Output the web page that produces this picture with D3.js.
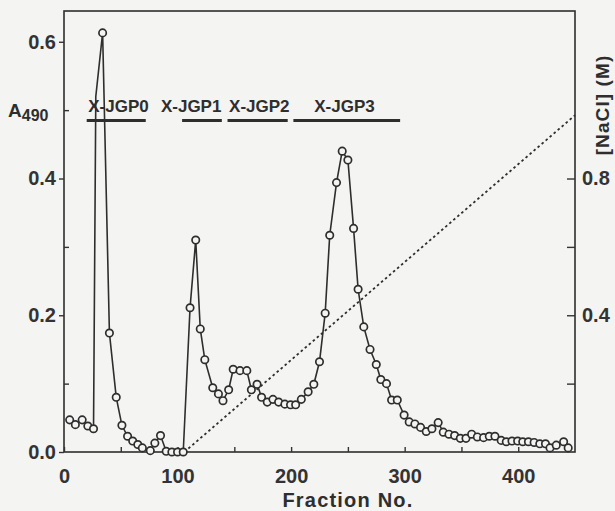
<!DOCTYPE html>
<html>
<head>
<meta charset="utf-8">
<script src="https://cdn.jsdelivr.net/npm/d3@7"></script>
<style>
  body { margin: 0; background: #f4f4f2; }
  svg { display: block; font-family: "Liberation Sans", Arial, sans-serif; }
  .axis text { font-size: 20px; font-weight: bold; fill: #333; }
  .axis line { stroke: #333; stroke-width: 1.4; }
</style>
</head>
<body>
<script>
// fraction numbers and A490 readings
var fractions = [5, 10, 16, 21, 26, 28, 34, 40, 46, 51, 56, 60.5, 65, 69, 76, 80, 85, 90, 95, 100,
  105, 111, 116, 120, 124, 131, 136, 140, 145, 149, 155, 161, 165, 170, 174, 179, 184, 189, 194.5, 199.5,
  204, 209, 215, 220, 225, 230, 234, 240, 245, 250, 255, 259, 264, 269.5, 275, 279, 284, 288.5, 293.5, 299.5,
  304, 309, 314, 319, 324, 329.5, 334, 339, 344, 349, 354, 359, 364, 369.5, 374.5, 379.5, 385, 389.5, 394.5, 399.5,
  404, 409, 414, 419, 424, 428, 433.5, 440, 444];
var a490 = [0.047, 0.040, 0.047, 0.038, 0.034, 0.520, 0.613, 0.174, 0.080, 0.039, 0.023, 0.016, 0.011, 0.006, 0.002, 0.013, 0.024, 0.001, 0, 0,
  0, 0.211, 0.310, 0.180, 0.135, 0.094, 0.085, 0.075, 0.091, 0.121, 0.119, 0.119, 0.091, 0.099, 0.080, 0.073, 0.077, 0.073, 0.070, 0.069,
  0.069, 0.077, 0.088, 0.099, 0.132, 0.203, 0.317, 0.394, 0.440, 0.427, 0.327, 0.238, 0.183, 0.150, 0.128, 0.106, 0.100, 0.076, 0.076, 0.054,
  0.044, 0.041, 0.036, 0.030, 0.034, 0.043, 0.029, 0.026, 0.024, 0.020, 0.020, 0.026, 0.022, 0.021, 0.023, 0.023, 0.017, 0.015, 0.016, 0.016,
  0.015, 0.015, 0.014, 0.012, 0.012, 0.006, 0.010, 0.015, 0.006];
var noMarker = [28]; // vertex of the first spike has no circle

// NaCl gradient (fraction, M)
var gradFraction = [106, 450];
var gradNaCl = [0, 0.985];

// pooled fractions
var poolNames = ["X-JGP0", "X-JGP1", "X-JGP2", "X-JGP3"];
var poolStart = [20, 104, 144, 202];
var poolEnd = [72, 139, 197, 296];
var poolLabelAt = [48, 112, 172, 247];
var poolLevel = 0.485;

var xTicks = [0, 50, 100, 150, 200, 250, 300, 350, 400];
var yMajor = [0, 0.2, 0.4, 0.6];
var yMinor = [0.1, 0.3, 0.5];
var rTicks = [0.2, 0.4, 0.6, 0.8];
var rLabels = [0.4, 0.8];

var w = 615, h = 511;
var ink = "#2e2e2e";
var bg = "#f4f4f2";

var x = d3.scaleLinear().domain([0, 450]).range([64, 575]);
var y = d3.scaleLinear().domain([0, 0.645]).range([452, 11]);
var yR = d3.scaleLinear().domain([0, 1.29]).range([452, 11]);

var svg = d3.select("body").append("svg")
    .attr("width", w)
    .attr("height", h);

svg.append("rect").attr("width", w).attr("height", h).attr("fill", bg);

// frame
svg.append("rect")
    .attr("x", x(0)).attr("y", y.range()[1])
    .attr("width", x(450) - x(0)).attr("height", y(0) - y.range()[1])
    .attr("fill", "none").attr("stroke", ink).attr("stroke-width", 1.6);

// bottom axis
svg.append("g").attr("class", "axis")
    .attr("transform", "translate(0," + y(0) + ")")
    .call(d3.axisBottom(x).tickValues(xTicks).tickSize(-5).tickPadding(17)
        .tickFormat(d => d % 100 === 0 ? d : ""))
    .call(g => g.select(".domain").remove());

// left axis
svg.append("g").attr("class", "axis")
    .attr("transform", "translate(" + x(0) + ",0)")
    .call(d3.axisLeft(y).tickValues(yMajor).tickSize(5).tickPadding(3).tickFormat(d3.format(".1f")))
    .call(g => g.select(".domain").remove());
svg.append("g").attr("class", "axis")
    .attr("transform", "translate(" + x(0) + ",0)")
    .call(d3.axisLeft(y).tickValues(yMinor).tickSize(-5).tickFormat(""))
    .call(g => g.select(".domain").remove());

// right axis
svg.append("g").attr("class", "axis")
    .attr("transform", "translate(" + x(450) + ",0)")
    .call(d3.axisRight(yR).tickValues(rTicks).tickSize(-8).tickPadding(7)
        .tickFormat(d => rLabels.indexOf(d) >= 0 ? d3.format(".1f")(d) : ""))
    .call(g => g.select(".domain").remove());

// axis titles
var aLab = svg.append("text")
    .attr("x", 8).attr("y", 117)
    .attr("font-size", 19).attr("font-weight", "bold").attr("fill", ink)
    .text("A");
aLab.append("tspan").attr("font-size", 16).attr("dy", 4).text("490");

svg.append("text")
    .attr("x", 348).attr("y", 507)
    .attr("text-anchor", "middle")
    .attr("font-size", 20).attr("font-weight", "bold").attr("letter-spacing", 1.2)
    .attr("fill", ink)
    .text("Fraction No.");

svg.append("text")
    .attr("transform", "translate(609,105) rotate(-90)")
    .attr("text-anchor", "middle")
    .attr("font-size", 19).attr("font-weight", "bold").attr("letter-spacing", 1.1)
    .attr("fill", ink)
    .text("[NaCl] (M)");

// NaCl gradient
svg.append("line")
    .attr("x1", x(gradFraction[0])).attr("y1", yR(gradNaCl[0]))
    .attr("x2", x(gradFraction[1])).attr("y2", yR(gradNaCl[1]))
    .attr("stroke", ink).attr("stroke-width", 1.8)
    .attr("stroke-dasharray", "2.5,2.8");

// pool bars + labels
var pools = poolNames.map((n, i) => ({name: n, s: poolStart[i], e: poolEnd[i], at: poolLabelAt[i]}));
svg.selectAll(".pool")
    .data(pools)
    .enter().append("line")
    .attr("class", "pool")
    .attr("x1", d => x(d.s)).attr("x2", d => x(d.e))
    .attr("y1", y(poolLevel)).attr("y2", y(poolLevel))
    .attr("stroke", ink).attr("stroke-width", 3);
svg.selectAll(".poolLabel")
    .data(pools)
    .enter().append("text")
    .attr("class", "poolLabel")
    .attr("x", d => x(d.at)).attr("y", y(poolLevel) - 8)
    .attr("text-anchor", "middle")
    .attr("font-size", 17).attr("font-weight", "bold").attr("fill", ink)
    .text(d => d.name);

// elution profile
var pts = fractions.map((f, i) => ({f: f, v: a490[i]}));
var line = d3.line().x(d => x(d.f)).y(d => y(d.v));
svg.append("path")
    .datum(pts)
    .attr("d", line)
    .attr("fill", "none").attr("stroke", ink).attr("stroke-width", 1.6)
    .attr("stroke-linejoin", "miter");

svg.selectAll(".pt")
    .data(pts.filter(d => noMarker.indexOf(d.f) < 0))
    .enter().append("circle")
    .attr("class", "pt")
    .attr("cx", d => x(d.f)).attr("cy", d => y(d.v))
    .attr("r", 3.7)
    .attr("fill", bg).attr("stroke", ink).attr("stroke-width", 1.7);
</script>
</body>
</html>
